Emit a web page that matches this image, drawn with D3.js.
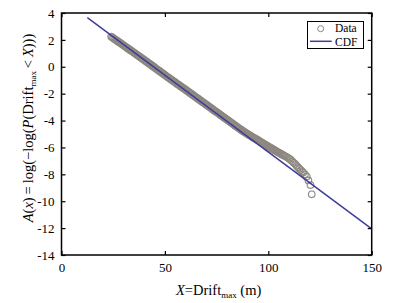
<!DOCTYPE html>
<html>
<head>
<meta charset="utf-8">
<script src="https://cdn.jsdelivr.net/npm/d3@7"></script>
<style>
  html, body { margin: 0; padding: 0; background: #fff; }
  svg { display: block; }
  text { font-family: "Liberation Serif", "Times New Roman", serif; fill: #000; }
</style>
</head>
<body>
<svg id="chart" width="398" height="303"></svg>
<script>
// ---- data ----
const dataX = [24,24.5,25,25.5,26,26.5,27,27.5,28,28.5,29,29.5,30,30.5,31,31.5,32,32.5,33,33.5,34,34.5,35,35.5,36,36.5,37,37.5,38,38.5,39,39.5,
  40,40.5,41,41.5,42,42.5,43,43.5,44,44.5,45,45.5,46,46.5,47,47.5,48,48.5,49,49.5,
  50,50.5,51,51.5,52,52.5,53,53.5,54,54.5,55,55.5,56,56.5,57,57.5,58,58.5,59,59.5,
  60,60.5,61,61.5,62,62.5,63,63.5,64,64.5,65,65.5,66,66.5,67,67.5,68,68.5,69,69.5,
  70,70.5,71,71.5,72,72.5,73,73.5,74,74.5,75,75.5,76,76.5,77,77.5,78,78.5,79,79.5,
  80,80.5,81,81.5,82,82.5,83,83.5,84,84.5,85,85.5,86,86.5,87,87.5,88,88.5,89,89.5,
  90,90.5,91,91.5,92,92.5,93,93.5,94,94.5,95,95.5,96,96.5,97,97.5,98,98.5,99,99.5,
  100,100.5,101,101.5,102,102.5,103,103.5,104,104.5,105,105.5,106,106.5,107,107.5,108,
  108.8,109.5,110.2,110.9,111.6,112.3,113.0,113.7,114.3,115.0,115.7,116.3,116.9,117.7,118.6,119.4,120.4,121.0];
const dataA = [2.25,2.19,2.14,2.08,2.03,1.97,1.92,1.86,1.81,1.76,1.71,1.65,1.60,1.54,1.49,1.43,1.38,1.32,1.27,1.22,1.17,1.11,1.06,1.00,0.95,0.89,0.84,0.78,0.73,0.67,0.62,0.56,
  0.51,0.45,0.40,0.34,0.28,0.23,0.18,0.12,0.06,0.01,-0.05,-0.11,-0.17,-0.22,-0.28,-0.33,-0.39,-0.44,-0.50,-0.55,
  -0.61,-0.67,-0.73,-0.78,-0.83,-0.89,-0.95,-1.00,-1.06,-1.11,-1.16,-1.22,-1.28,-1.33,-1.38,-1.44,-1.50,-1.55,-1.60,-1.65,
  -1.71,-1.76,-1.82,-1.87,-1.93,-1.98,-2.04,-2.09,-2.15,-2.21,-2.27,-2.32,-2.37,-2.43,-2.49,-2.54,-2.60,-2.65,-2.70,-2.76,
  -2.82,-2.87,-2.93,-2.98,-3.04,-3.09,-3.15,-3.21,-3.27,-3.32,-3.37,-3.42,-3.48,-3.54,-3.60,-3.65,-3.70,-3.76,-3.82,-3.87,
  -3.93,-3.98,-4.04,-4.09,-4.15,-4.20,-4.26,-4.32,-4.38,-4.43,-4.48,-4.54,-4.60,-4.65,-4.70,-4.75,-4.81,-4.86,-4.91,-4.95,
  -5.00,-5.05,-5.10,-5.14,-5.19,-5.24,-5.29,-5.33,-5.37,-5.42,-5.46,-5.51,-5.56,-5.60,-5.65,-5.70,-5.75,-5.79,-5.84,-5.89,
  -5.94,-5.98,-6.02,-6.07,-6.11,-6.16,-6.20,-6.25,-6.29,-6.34,-6.38,-6.42,-6.46,-6.51,-6.56,-6.60,-6.64,
  -6.70,-6.77,-6.84,-6.93,-7.03,-7.14,-7.24,-7.36,-7.47,-7.58,-7.68,-7.77,-7.87,-8.00,-8.17,-8.45,-8.80,-9.49];
const cdfX = [12.5, 149.7];
const cdfA = [3.65, -12.02];
const xTicks = [0, 50, 100, 150];
const yTicks = [4, 2, 0, -2, -4, -6, -8, -10, -12, -14];
const legendLabels = ["Data", "CDF"];

// ---- drawing ----
const svg = d3.select("#chart");
const L = 61.5, R = 371.7, T = 13, B = 255;
const x = d3.scaleLinear().domain([0, 150]).range([L, R]);
const y = d3.scaleLinear().domain([-14, 4]).range([B, T]);

const circColor = "#8d877f";
const lineColor = "#3d3d9c";

// data circles
const pts = dataX.map((v, i) => [v, dataA[i]]);
svg.append("g").selectAll("circle").data(pts).join("circle")
  .attr("cx", d => x(d[0])).attr("cy", d => y(d[1])).attr("r", 3.3)
  .attr("fill", "none").attr("stroke", circColor).attr("stroke-width", 1.1);

// CDF line
const cdf = cdfX.map((v, i) => [v, cdfA[i]]);
svg.append("path").datum(cdf)
  .attr("d", d3.line().x(d => x(d[0])).y(d => y(d[1])))
  .attr("fill", "none").attr("stroke", lineColor).attr("stroke-width", 1.5);

// axes (box with inward ticks)
const tickLen = 4;
const gB = svg.append("g").attr("transform", `translate(0,${B})`)
  .call(d3.axisBottom(x).tickValues(xTicks).tickSizeInner(-tickLen).tickSizeOuter(0).tickPadding(8));
const gT = svg.append("g").attr("transform", `translate(0,${T})`)
  .call(d3.axisTop(x).tickValues(xTicks).tickSizeInner(-tickLen).tickSizeOuter(0).tickFormat(""));
const gL = svg.append("g").attr("transform", `translate(${L},0)`)
  .call(d3.axisLeft(y).tickValues(yTicks).tickSizeInner(-tickLen).tickSizeOuter(0).tickPadding(6)
    .tickFormat(d => String(d).replace("\u2212", "-")));
const gR = svg.append("g").attr("transform", `translate(${R},0)`)
  .call(d3.axisRight(y).tickValues(yTicks).tickSizeInner(-tickLen).tickSizeOuter(0).tickFormat(""));

[gB, gT, gL, gR].forEach(g => {
  g.select(".domain").remove();
  g.selectAll(".tick line").attr("stroke", "#000").attr("stroke-width", 1.2);
  g.selectAll("text").attr("font-size", 13).attr("fill", "#000");
});
gL.selectAll("text").attr("dx", "-1");

svg.append("rect").attr("x", L).attr("y", T).attr("width", R - L).attr("height", B - T)
  .attr("fill", "none").attr("stroke", "#000").attr("stroke-width", 1.5);

// x label
const xl = svg.append("text").attr("x", (L + R) / 2 + 2).attr("y", 295)
  .attr("text-anchor", "middle").attr("font-size", 14.5);
xl.append("tspan").attr("font-style", "italic").text("X");
xl.append("tspan").text("=Drift");
xl.append("tspan").attr("font-size", 9).attr("dy", 3).text("max");
xl.append("tspan").attr("dy", -3).text(" (m)");

// y label
const yl = svg.append("text").attr("transform", `translate(33,128) rotate(-90)`)
  .attr("text-anchor", "middle").attr("font-size", 14.5);
yl.append("tspan").attr("font-style", "italic").text("A");
yl.append("tspan").text("(");
yl.append("tspan").attr("font-style", "italic").text("x");
yl.append("tspan").text(")\u2009=\u2009log(\u2212log(");
yl.append("tspan").attr("font-style", "italic").text("P");
yl.append("tspan").text("(Drift");
yl.append("tspan").attr("font-size", 9).attr("dy", 3).text("max");
yl.append("tspan").attr("dy", -3).text("\u2009<\u2009");
yl.append("tspan").attr("font-style", "italic").text("X");
yl.append("tspan").text(")))");

// legend
const lg = svg.append("g");
lg.append("rect").attr("x", 307.5).attr("y", 21.5).attr("width", 56).attr("height", 27)
  .attr("fill", "#fff").attr("stroke", "#000").attr("stroke-width", 1);
lg.append("circle").attr("cx", 320.7).attr("cy", 28.7).attr("r", 3)
  .attr("fill", "none").attr("stroke", circColor).attr("stroke-width", 1);
lg.append("line").attr("x1", 310).attr("x2", 331.7).attr("y1", 41.3).attr("y2", 41.3)
  .attr("stroke", lineColor).attr("stroke-width", 1.5);
lg.append("text").attr("x", 335).attr("y", 32.3).attr("font-size", 11.5).text(legendLabels[0]);
lg.append("text").attr("x", 335).attr("y", 45.5).attr("font-size", 11.5).text(legendLabels[1]);
</script>
</body>
</html>
